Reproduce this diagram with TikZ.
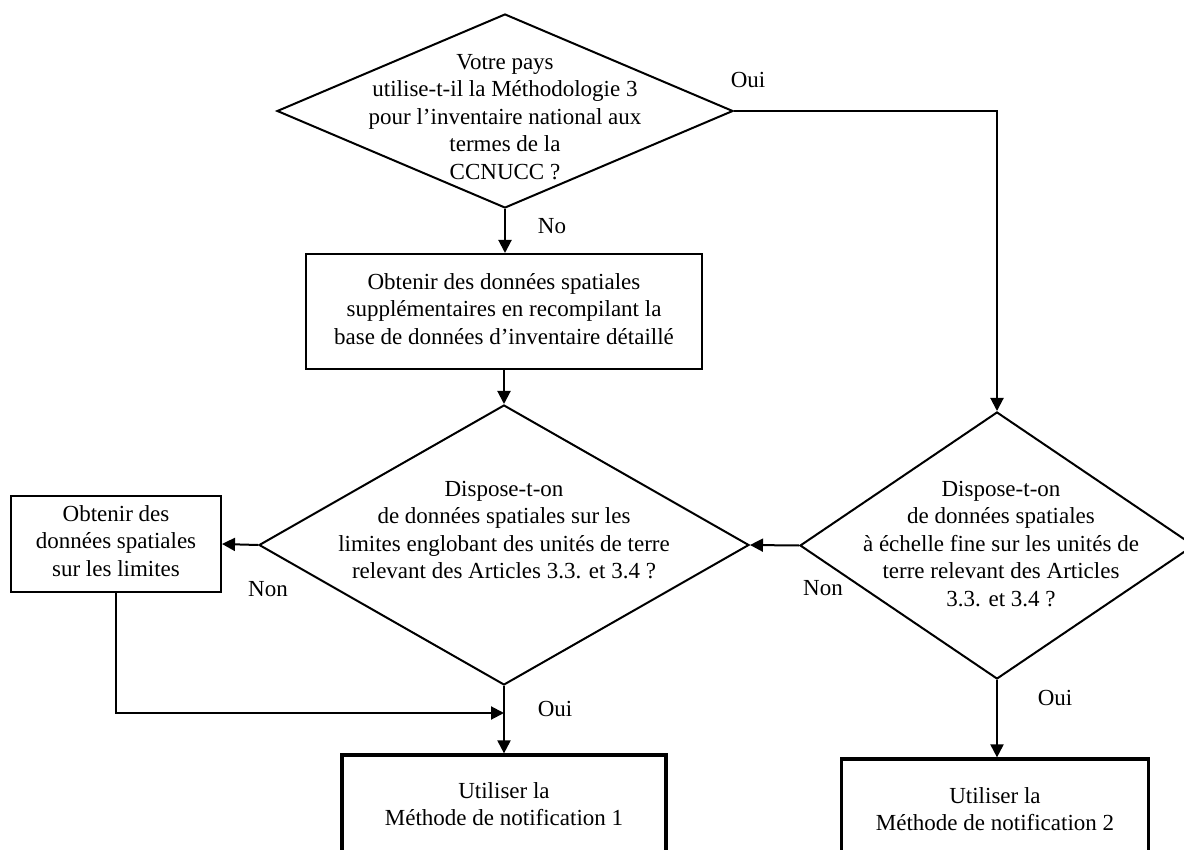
\documentclass[tikz,border=0pt]{standalone}
\usepackage{fontspec}
\setmainfont{Liberation Serif}
\usetikzlibrary{shapes.geometric,arrows.meta}
\begin{document}
\begin{tikzpicture}[x=1pt,y=-1pt,
  ln/.style={line width=2pt},
  arr/.style={line width=2pt,-{Triangle[length=13pt,width=13pt]}},
  dia/.style={diamond,draw,line width=2pt,inner sep=0pt},
  box/.style={rectangle,draw,line width=2pt,inner sep=0pt},
  endbox/.style={rectangle,draw,line width=3.2pt,inner sep=0pt},
  txt/.style={align=center,inner sep=0pt,font=\fontsize{23}{27.5}\selectfont}]
\useasboundingbox (0,0) rectangle (1184,850);
\fill[white] (0,0) rectangle (1184,850);
\clip (0,0) rectangle (1184,850);

% shapes
\node[dia, minimum width=456pt, minimum height=194pt] (q1) at (505,111) {};
\node[txt] (q1t) at (505,117) {Votre pays\\ utilise-t-il la Méthodologie 3\\ pour l’inventaire national aux\\ termes de la\\ CCNUCC ?};

\node[box, minimum width=396pt, minimum height=115pt] (b1) at (504,311.5) {};
\node[txt] (b1t) at (504,309) {Obtenir des données spatiales\\ supplémentaires en recompilant la\\ base de données d’inventaire détaillé};

\node[dia, minimum width=490pt, minimum height=280pt] (q2) at (504,545) {};
\node[txt] (q2t) at (504,530) {Dispose-t-on\\ de données spatiales sur les\\ limites englobant des unités de terre\\ relevant des Articles 3.3. et 3.4 ?};

\node[dia, minimum width=394pt, minimum height=267pt] (q3) at (997,545.5) {};
\node[txt] (q3t) at (1001,544) {Dispose-t-on\\ de données spatiales\\ à échelle fine sur les unités de\\ terre relevant des Articles\\ 3.3. et 3.4 ?};

\node[box, minimum width=210pt, minimum height=96pt] (lim) at (116,544) {};
\node[txt] (limt) at (116,541) {Obtenir des\\ données spatiales\\ sur les limites};

\node[endbox, minimum width=324pt, minimum height=140pt] (m1) at (504,825) {};
\node[txt] (m1t) at (504,804) {Utiliser la\\ Méthode de notification 1};

\node[endbox, minimum width=307pt, minimum height=140pt] (m2) at (995,829) {};
\node[txt] (m2t) at (995,809) {Utiliser la\\ Méthode de notification 2};

% connectors
\draw[arr] (q1.east) -| (q3.north);
\draw[arr] (q1.south) -- (q1.south |- b1.north);
\draw[arr] (b1.south) -- (q2.north);
\draw[arr] (q3.west) -- (q2.east);
\draw[arr] (q2.west) -- (lim.east);
\draw[arr] (q2.south) -- (q2.south |- m1.north);
\draw[arr] (q3.south) -- (q3.south |- m2.north);
\coordinate (j) at (504,713);
\draw[arr] (lim.south) |- (j);

% labels
\node[txt] (l1) at (748,80) {Oui};
\node[txt] (l2) at (552,226) {No};
\node[txt] (l3) at (268,589) {Non};
\node[txt] (l4) at (823,588) {Non};
\node[txt] (l5) at (555,709) {Oui};
\node[txt] (l6) at (1055,698) {Oui};
\end{tikzpicture}
\end{document}
